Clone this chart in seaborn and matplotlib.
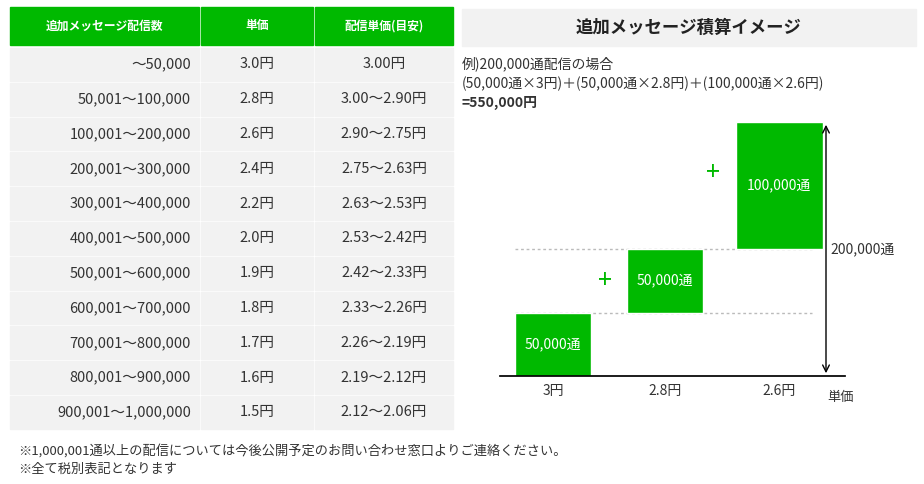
import matplotlib
matplotlib.use("Agg")
import matplotlib.pyplot as plt
from matplotlib.patches import Rectangle
import seaborn as sns

sns.set_theme(style="white", rc={"font.family": "Noto Sans CJK JP"})

headers = ["追加メッセージ配信数", "単価", "配信単価(目安)"]
ranges = ["～50,000", "50,001～100,000", "100,001～200,000", "200,001～300,000",
          "300,001～400,000", "400,001～500,000", "500,001～600,000", "600,001～700,000",
          "700,001～800,000", "800,001～900,000", "900,001～1,000,000"]
unit_prices = ["3.0円", "2.8円", "2.6円", "2.4円", "2.2円", "2.0円", "1.9円", "1.8円", "1.7円", "1.6円", "1.5円"]
avg_prices = ["3.00円", "3.00～2.90円", "2.90～2.75円", "2.75～2.63円", "2.63～2.53円", "2.53～2.42円",
              "2.42～2.33円", "2.33～2.26円", "2.26～2.19円", "2.19～2.12円", "2.12～2.06円"]

step_labels = ["3円", "2.8円", "2.6円"]
step_counts = [50000, 50000, 100000]
bar_texts = ["50,000通", "50,000通", "100,000通"]
total_label = "200,000通"

W, H = 924, 484
GREEN = "#00b900"
GRAY = "#f2f2f2"
TXT = "#333333"
fig = plt.figure(figsize=(W/100, H/100), dpi=100)

def px(x, y):
    return x / W, 1 - y / H

def rect(x0, y0, x1, y1, c):
    fig.patches.append(Rectangle((x0/W, 1-y1/H), (x1-x0)/W, (y1-y0)/H, transform=fig.transFigure, color=c, zorder=0))

# table
cols = [(10, 199), (201, 313), (315, 453)]
for (a, b), h in zip(cols, headers):
    rect(a, 7, b, 45, GREEN)
    fig.text(*px((a+b)/2, 26), h, color="white", fontsize=8.5, fontweight="bold", ha="center", va="center")
top, rh = 48, 34.8
for i in range(len(ranges)):
    y0 = top + i*rh
    y1 = y0 + rh - 2
    yc = (y0+y1)/2
    for (a, b) in cols:
        rect(a, y0, b, y1, GRAY)
    fig.text(*px(191, yc), ranges[i], color=TXT, fontsize=10.5, ha="right", va="center")
    fig.text(*px(257, yc), unit_prices[i], color=TXT, fontsize=10.5, ha="center", va="center")
    fig.text(*px(384, yc), avg_prices[i], color=TXT, fontsize=10.5, ha="center", va="center")

fig.text(*px(18, 451), "※1,000,001通以上の配信については今後公開予定のお問い合わせ窓口よりご連絡ください。", color=TXT, fontsize=9.5, va="center")
fig.text(*px(18, 469), "※全て税別表記となります", color=TXT, fontsize=9.5, va="center")

# right side header
rect(462, 9, 916, 46, GRAY)
fig.text(*px(689, 28), "追加メッセージ積算イメージ", color="#222222", fontsize=12.5, fontweight="bold", ha="center", va="center")
fig.text(*px(462, 64), "例)200,000通配信の場合", color=TXT, fontsize=10, va="center")
fig.text(*px(462, 84), "(50,000通×3円)＋(50,000通×2.8円)＋(100,000通×2.6円)", color=TXT, fontsize=10, va="center")
fig.text(*px(462, 103), "=550,000円", color=TXT, fontsize=10, fontweight="bold", va="center")

# waterfall axes
L, R, B, T = 500, 845, 376, 100
ax = fig.add_axes([L/W, 1-B/H, (R-L)/W, (B-T)/H])
unit = 112.0
ax.set_xlim((L-553)/unit, (R-553)/unit)
ax.set_ylim(0, 200000 * (B-T) / (376-122))
bottoms = [0]
for c in step_counts[:-1]:
    bottoms.append(bottoms[-1] + c)
widths = [0.68, 0.68, 0.78]
xs = [0, 1, 2.02]
ax.bar(xs, step_counts, bottom=bottoms, width=widths, color=GREEN, zorder=2)
for x, b, c, t in zip(xs, bottoms, step_counts, bar_texts):
    ax.text(x, b + c/2, t, color="white", fontsize=10, ha="center", va="center", zorder=3)
right_edge = (812-553)/unit
for b in bottoms[1:]:
    ax.plot([-0.34, right_edge], [b, b], ls=(0, (2, 2)), color="#bbbbbb", lw=1, zorder=1)
for i in (1, 2):
    ax.text(xs[i] - widths[i]/2 - 0.2, bottoms[i] + step_counts[i]/2 + 10000 if i == 2 else bottoms[i] + step_counts[i]/2,
            "+", color=GREEN, fontsize=18, ha="center", va="center")
total = sum(step_counts)
xa = (826-553)/unit
ax.annotate("", xy=(xa, total), xytext=(xa, 0), arrowprops=dict(arrowstyle="<->", color="black", lw=1))
ax.text(xa + 0.04, total/2 + 0*total, total_label, color=TXT, fontsize=10, va="center", ha="left", clip_on=False)
ax.set_xticks(xs)
ax.set_xticklabels(step_labels, fontsize=10, color=TXT)
ax.tick_params(axis="x", length=0, pad=6)
ax.set_yticks([])
for s in ["top", "right", "left"]:
    ax.spines[s].set_visible(False)
ax.spines["bottom"].set_color("black")
ax.patch.set_alpha(0)
fig.text(*px(827, 397), "単価", color=TXT, fontsize=9.5, va="center")

fig.savefig("out.png", dpi=100)
